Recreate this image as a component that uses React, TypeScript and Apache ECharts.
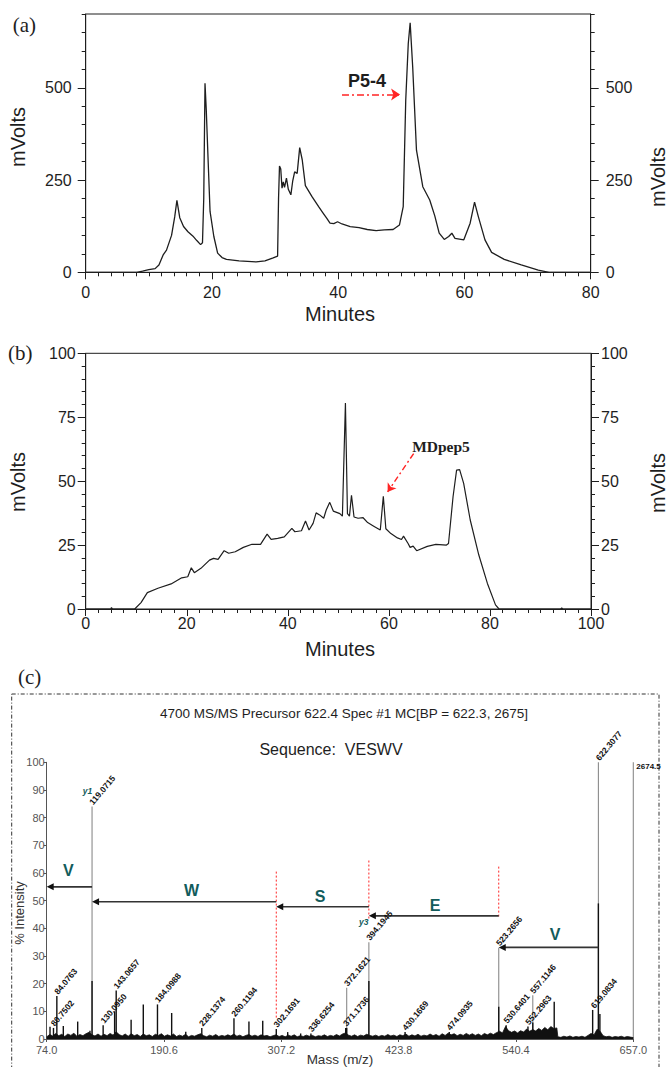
import React, { useEffect, useRef } from "react";
import * as echarts from "echarts";

const SANS = '"Liberation Sans", Arial, Helvetica, sans-serif';
const SERIF = '"Liberation Serif", "Times New Roman", Times, serif';
const NARROW = '"Liberation Sans Narrow", "Liberation Sans", Arial, sans-serif';
const INK = "#1e1e1e";
const TEAL = "#125c5c";
const RED = "#ff2424";

// ---------- Panel (a): chromatogram [minutes, mVolts] ----------
const chromA: [number, number][] = [
  [0, 0], [8.1, 0], [9.0, 3], [10.0, 7], [11.0, 10], [11.6, 20], [12.3, 48], [12.8, 60], [13.6, 100],
  [14.1, 150], [14.45, 195], [14.9, 148], [15.5, 124], [16.2, 110], [17.0, 98], [17.6, 86], [18.2, 75],
  [18.5, 80], [18.7, 200], [18.9, 512], [19.1, 440], [19.4, 300], [19.7, 165], [20.3, 97], [20.9, 52],
  [21.6, 40], [22.3, 35], [24.3, 31], [27.0, 28], [28.4, 31], [29.7, 39], [30.4, 44], [30.55, 200],
  [30.7, 288], [30.9, 280], [31.1, 228], [31.3, 245], [31.5, 230], [31.8, 255], [32.1, 225], [32.5, 210],
  [32.8, 248], [33.1, 272], [33.5, 268], [33.9, 338], [34.3, 305], [34.8, 235], [35.85, 205], [36.9, 178],
  [37.55, 162], [38.2, 146], [38.7, 133], [39.3, 132], [39.9, 137], [40.6, 131], [41.9, 124], [43.3, 121],
  [44.6, 116], [46.0, 113], [47.3, 115], [48.7, 116], [49.7, 128], [50.3, 178], [50.7, 467], [51.1, 620],
  [51.4, 676], [51.8, 557], [52.4, 331], [53.4, 232], [54.5, 196], [55.3, 153], [56.0, 106], [56.8, 89],
  [57.5, 97], [58.0, 106], [58.5, 92], [59.9, 88], [60.9, 133], [61.6, 190], [62.2, 151], [63.25, 88],
  [64.3, 54], [66.3, 35], [69.0, 20], [71.7, 6], [73.4, 0], [80, 0],
];
const arrowA: [number, number][] = [[40.6, 482], [49.8, 482]];

// ---------- Panel (b): chromatogram [minutes, mVolts] ----------
const chromB: [number, number][] = [
  [0, 0], [5, 0], [5.1, 0.6], [5.3, 0], [9.7, 0], [10.95, 2.5], [12.2, 6.4], [14.3, 8.1], [16.9, 9.8],
  [19.0, 12.2], [20.2, 12.6], [20.9, 16.1], [21.5, 14.2], [22.8, 15.9], [24.5, 19.1], [25.3, 19.8],
  [26.2, 19.4], [27.4, 22.8], [28.3, 21.8], [29.6, 22.4], [31.2, 24.1], [32.9, 25.3], [34.6, 25.3],
  [35.9, 29.3], [36.7, 27.2], [38.0, 27.6], [39.3, 28.2], [40.8, 31.5], [41.4, 30.2], [42.7, 30.6],
  [43.5, 34.4], [44.2, 30.9], [45.0, 33.5], [45.6, 37.6], [46.3, 36.8], [47.1, 35.5], [47.6, 38.7],
  [48.3, 41.7], [49.0, 38.3], [50.3, 37.3], [50.8, 36.3], [51.4, 80.6], [51.8, 37.3], [52.2, 36.3],
  [52.6, 44.5], [53.1, 36], [53.9, 35.5], [54.9, 35.7], [55.8, 33.8], [57.0, 32.4], [58.3, 30.9],
  [58.9, 44.1], [59.4, 31.4], [60.4, 29.5], [61.7, 27.8], [62.5, 27.2], [62.9, 28.5], [63.8, 25.6],
  [64.2, 24.1], [64.8, 24.6], [65.5, 22.8], [67.6, 24.5], [69.3, 25.3], [71.4, 25.0], [71.8, 25.6],
  [72.7, 43.9], [73.4, 54.3], [74.0, 54.5], [74.8, 49.1], [76.1, 34.8], [77.8, 21.1], [79.5, 10.0],
  [81.1, 1.6], [81.8, 0], [94, 0], [94.2, 0.4], [94.4, 0], [100, 0],
];
const arrowB: [number, number][] = [[64.9, 60.8], [59.75, 45.8]];

// ---------- Panel (c): MS/MS spectrum ----------
const noise: [number, number][] = [
  [74, 0.8], [77, 1.6], [80, 1.1], [83, 2.0], [86, 1.2], [89, 1.7], [92, 0.9], [95, 1.8], [98, 1.3], [101, 2.1],
  [104, 1.0], [107, 1.6], [110, 1.2], [113, 1.9], [116, 2.4], [119, 1.5], [122, 1.1], [125, 1.8], [128, 1.0],
  [131, 1.7], [134, 1.2], [137, 2.0], [140, 1.4], [143, 2.6], [146, 1.6], [149, 1.1], [152, 1.8], [155, 1.0],
  [158, 1.9], [161, 1.2], [164, 1.6], [167, 0.9], [170, 1.8], [173, 1.2], [176, 1.5], [179, 0.9], [182, 1.7],
  [185, 1.3], [188, 1.9], [191, 1.0], [194, 1.5], [197, 1.1], [200, 1.8], [203, 0.9], [206, 1.4], [209, 1.0],
  [212, 1.7], [215, 0.8], [218, 1.3], [221, 1.0], [224, 1.5], [227, 1.9], [230, 1.2], [233, 0.8], [236, 1.4],
  [239, 1.0], [242, 1.6], [245, 0.9], [248, 1.3], [251, 1.0], [254, 1.5], [257, 1.1], [260, 1.8], [263, 1.0],
  [266, 1.4], [269, 0.8], [272, 1.3], [275, 1.6], [278, 1.0], [281, 1.4], [284, 0.9], [287, 1.5], [290, 1.1],
  [293, 1.3], [296, 0.8], [299, 1.2], [302, 1.5], [305, 0.9], [308, 1.3], [311, 0.8], [314, 1.4], [317, 1.0],
  [320, 1.5], [323, 0.8], [326, 1.2], [329, 0.9], [332, 1.4], [335, 1.0], [338, 1.3], [341, 0.8], [344, 1.2],
  [347, 1.0], [350, 1.5], [353, 0.9], [356, 1.3], [359, 1.0], [362, 1.6], [365, 1.1], [368, 1.8], [371, 2.2],
  [374, 1.4], [377, 1.0], [380, 1.5], [383, 0.9], [386, 1.4], [389, 1.1], [392, 1.7], [395, 1.3], [398, 1.0],
  [401, 1.4], [404, 0.9], [407, 1.3], [410, 1.0], [413, 1.6], [416, 1.1], [419, 1.4], [422, 0.9], [425, 1.5],
  [428, 1.2], [431, 1.8], [434, 1.0], [437, 1.5], [440, 1.1], [443, 1.7], [446, 1.0], [449, 1.4], [452, 1.1],
  [455, 1.8], [458, 1.2], [461, 1.6], [464, 1.0], [467, 1.9], [470, 1.3], [473, 2.1], [476, 1.5], [479, 1.9],
  [482, 1.2], [485, 1.7], [488, 1.3], [491, 2.0], [494, 1.4], [497, 1.9], [500, 1.3], [503, 1.8], [506, 1.2],
  [509, 2.0], [512, 1.5], [515, 2.1], [518, 1.6], [521, 2.3], [524, 2.8], [527, 2.2], [530, 4.5], [533, 3.0],
  [536, 2.4], [539, 2.9], [542, 2.2], [545, 3.0], [548, 2.5], [551, 3.6], [554, 2.8], [557, 3.4], [560, 2.9],
  [563, 3.8], [566, 3.1], [569, 4.2], [572, 3.3], [575, 4.5], [578, 3.8], [581, 4.0], [582, 0.8], [585, 0.6],
  [588, 1.0], [591, 0.7], [594, 1.1], [597, 0.6], [600, 0.9], [603, 0.7], [606, 1.0], [609, 0.6], [612, 1.3],
  [615, 2.0], [618, 1.5], [621, 3.5], [624, 2.8], [627, 1.2], [630, 0.8], [633, 1.0], [636, 0.6], [639, 0.9],
  [642, 0.7], [645, 1.0], [648, 0.6], [651, 0.9], [654, 0.7], [657, 0.5],
];

// black peak sticks [m/z, % intensity]
const blackSticks: [number, number][] = [
  [77.3, 4.4], [80.75, 4], [84.08, 15.5], [90.5, 4.7], [104.8, 6.3], [117, 3], [119.07, 21], [130.1, 5],
  [141.5, 10], [143.07, 17.5], [157.9, 7], [170, 12.5], [184.1, 12.5], [198.2, 9.4], [212.2, 2.6],
  [228.14, 4], [260.12, 7.5], [275, 6.3], [288.7, 6.6], [302.17, 3.6], [313.5, 2.5], [326.4, 2],
  [336.6, 2], [371.17, 4], [372.16, 4], [394.19, 21], [430.17, 2.5], [474.09, 2.5], [523.27, 11.7],
  [530.64, 5], [552.3, 4.5], [557.11, 6], [578.4, 13.5], [616.6, 10.5], [622.3, 49], [623.8, 9],
];
// grey annotated peak lines [m/z, % intensity]
const greyPeaks: [number, number][] = [
  [119.07, 84], [372.16, 18.5], [394.19, 35], [523.27, 33], [557.11, 15.8], [622.31, 100], [657, 100],
];
// peak labels
const peakLabelPos: [number, number][] = [
  [80.75, 4], [84.08, 15.5], [119.07, 84], [130.1, 5], [143.07, 17.5], [184.1, 12.5], [228.14, 4],
  [260.12, 7.5], [302.17, 3.6], [336.63, 2], [371.17, 4], [372.16, 18.5], [394.19, 35], [430.17, 2.5],
  [474.09, 2.5], [523.27, 33], [530.64, 5], [552.3, 4.5], [557.11, 15.8], [617.5, 10.5], [622.31, 100],
];
const peakLabelText: string[] = [
  "80.7502", "84.0763", "119.0715", "130.0950", "143.0657", "184.0988", "228.1374",
  "260.1194", "302.1691", "336.6254", "371.1736", "372.1621", "394.1945", "430.1669",
  "474.0935", "523.2656", "530.6401", "552.2963", "557.1146", "619.0834", "622.3077",
];
const maxMarkerPos: [number, number][] = [[657, 100]];
const maxMarkerText = ["2674.5"];

// red dashed guides [m/z, top %, bottom %]
const redGuides: [number, number, number][] = [
  [302.17, 60.5, 7], [394.19, 64.5, 43], [523.27, 62.3, 44.3],
];
// sequence ladder arrows [from m/z, to m/z, % level]
const ladderArrows: [number, number, number][] = [
  [119.07, 74, 55], [302.17, 119.07, 49.6], [394.19, 302.17, 47.8], [523.27, 394.19, 44.5], [622.31, 523.27, 33.1],
];
const residueLetters = ["V", "W", "S", "E", "V"];
const residuePos: [number, number][] = [[95.4, 61], [218, 53.8], [345.6, 51.4], [460, 48.4], [579.3, 37.6]];
const ionLabels = ["y1", "y3"];
const ionPos: [number, number][] = [[114.6, 89.7], [389.2, 42.4]];

const MZ_MIN = 74.0;
const MZ_MAX = 657.0;
const MZ_STEP = 116.6;

function tickAxis(extra: any) {
  return {
    type: "value",
    splitLine: { show: false },
    minorSplitLine: { show: false },
    axisLine: { show: true, onZero: false, lineStyle: { color: INK, width: 1 } },
    axisTick: { show: true, length: 8, lineStyle: { color: INK, width: 1 } },
    axisLabel: { fontSize: 16, color: INK, fontFamily: SANS },
    ...extra,
  };
}

export default function App() {
  const ref = useRef<HTMLDivElement>(null);
  useEffect(() => {
    const chart = echarts.init(ref.current!, null, { renderer: "svg" });

    const txt = (text: string, x: number, y: number, font: string, extra: any = {}) => ({
      type: "text",
      x,
      y,
      silent: true,
      style: { text, font, fill: INK, align: "center", verticalAlign: "middle", ...(extra.style || {}) },
      ...(extra.rotation !== undefined ? { rotation: extra.rotation } : {}),
    });

    const option: any = {
      animation: false,
      textStyle: { fontFamily: SANS },
      grid: [
        { left: 85.7, top: 14, width: 505, height: 258.3, show: true, borderColor: INK, borderWidth: 1, backgroundColor: "transparent" },
        { left: 85.7, top: 353.3, width: 505.3, height: 255.7, show: true, borderColor: INK, borderWidth: 1, backgroundColor: "transparent" },
        { left: 46.7, top: 762.3, width: 586.6, height: 276.7, show: false },
      ],
      xAxis: [
        tickAxis({
          gridIndex: 0, min: 0, max: 80, interval: 20, position: "bottom",
          axisTick: { show: true, length: 7, lineStyle: { color: INK } },
          minorTick: { show: true, splitNumber: 10, length: 4, lineStyle: { color: INK } },
          axisLabel: { fontSize: 16, color: INK, margin: 12, fontFamily: SANS },
        }),
        tickAxis({
          gridIndex: 1, min: 0, max: 100, interval: 20, position: "bottom",
          axisTick: { show: true, length: 7, lineStyle: { color: INK } },
          minorTick: { show: true, splitNumber: 8, length: 4, lineStyle: { color: INK } },
          axisLabel: { fontSize: 16, color: INK, margin: 6, fontFamily: SANS },
        }),
        {
          type: "value", gridIndex: 2, min: MZ_MIN, max: MZ_MAX, position: "bottom",
          axisLine: { show: true, onZero: false, lineStyle: { color: "#555", width: 1 } },
          axisTick: { show: false }, axisLabel: { show: false }, splitLine: { show: false },
        },
        {
          type: "value", gridIndex: 2, min: 0, max: MZ_MAX - MZ_MIN, interval: MZ_STEP, position: "bottom",
          axisLine: { show: false, onZero: false },
          axisTick: { show: true, length: 3, lineStyle: { color: "#555" } },
          splitLine: { show: false },
          axisLabel: {
            fontSize: 11, color: "#555", margin: 5, fontFamily: SANS, showMinLabel: true, showMaxLabel: true,
            formatter: (v: number) => (v + MZ_MIN).toFixed(1),
          },
        },
      ],
      yAxis: [
        tickAxis({ gridIndex: 0, min: 0, max: 700, interval: 50, position: "left", axisTick: { length: 4, lineStyle: { color: INK } }, axisLabel: { show: false } }),
        tickAxis({
          gridIndex: 0, min: 0, max: 700, interval: 250, position: "left", axisLine: { show: false, onZero: false },
          axisLabel: { fontSize: 16, color: INK, margin: 14, fontFamily: SANS, showMaxLabel: false, formatter: (v: number) => (v % 250 === 0 ? String(v) : "") },
        }),
        tickAxis({ gridIndex: 0, min: 0, max: 700, interval: 50, position: "right", axisTick: { length: 4, lineStyle: { color: INK } }, axisLabel: { show: false } }),
        tickAxis({
          gridIndex: 0, min: 0, max: 700, interval: 250, position: "right", axisLine: { show: false, onZero: false },
          axisLabel: { fontSize: 16, color: INK, margin: 15, fontFamily: SANS, showMaxLabel: false, formatter: (v: number) => (v % 250 === 0 ? String(v) : "") },
        }),
        tickAxis({
          gridIndex: 1, min: 0, max: 100, interval: 25, position: "left",
          minorTick: { show: true, splitNumber: 5, length: 4, lineStyle: { color: INK } },
          axisLabel: { fontSize: 16, color: INK, margin: 10, fontFamily: SANS },
        }),
        tickAxis({
          gridIndex: 1, min: 0, max: 100, interval: 25, position: "right",
          minorTick: { show: true, splitNumber: 5, length: 4, lineStyle: { color: INK } },
          axisLabel: { fontSize: 16, color: INK, margin: 10, fontFamily: SANS },
        }),
        {
          type: "value", gridIndex: 2, min: 0, max: 100, interval: 10, position: "left",
          axisLine: { show: true, onZero: false, lineStyle: { color: "#555", width: 1 } },
          axisTick: { show: true, length: 3, lineStyle: { color: "#555" } },
          splitLine: { show: false },
          axisLabel: { fontSize: 11, color: "#555", margin: 2, fontFamily: SANS },
        },
      ],
      series: [
        {
          type: "line", xAxisIndex: 0, yAxisIndex: 0, data: chromA, symbol: "none", silent: true,
          lineStyle: { color: INK, width: 1.3 },
          markLine: {
            silent: true, symbol: ["none", "arrow"], symbolSize: 9, label: { show: false },
            lineStyle: { color: RED, width: 1.6, type: [7, 3, 2, 3] },
            data: [[{ coord: arrowA[0] }, { coord: arrowA[1] }]],
          },
        },
        {
          type: "line", xAxisIndex: 1, yAxisIndex: 4, data: chromB, symbol: "none", silent: true,
          lineStyle: { color: INK, width: 1.2 },
          markLine: {
            silent: true, symbol: ["none", "arrow"], symbolSize: 8, label: { show: false },
            lineStyle: { color: RED, width: 1.4, type: [6, 3, 2, 3] },
            data: [[{ coord: arrowB[0] }, { coord: arrowB[1] }]],
          },
        },
        {
          type: "line", xAxisIndex: 2, yAxisIndex: 6, data: noise, symbol: "none", silent: true,
          lineStyle: { color: "#111", width: 0.8 }, areaStyle: { color: "#111", opacity: 1 },
        },
        {
          type: "custom", xAxisIndex: 2, yAxisIndex: 6, data: greyPeaks, silent: true,
          renderItem: (_p: any, api: any) => {
            const a = api.coord([api.value(0), 0]);
            const b = api.coord([api.value(0), api.value(1)]);
            return { type: "line", shape: { x1: a[0], y1: a[1], x2: b[0], y2: b[1] }, style: { stroke: "#8a8a8a", lineWidth: 1.1 } };
          },
        },
        {
          type: "custom", xAxisIndex: 2, yAxisIndex: 6, data: blackSticks, silent: true,
          renderItem: (_p: any, api: any) => {
            const a = api.coord([api.value(0), 0]);
            const b = api.coord([api.value(0), api.value(1)]);
            return { type: "line", shape: { x1: a[0], y1: a[1], x2: b[0], y2: b[1] }, style: { stroke: "#111", lineWidth: 1.4 } };
          },
        },
        {
          type: "custom", xAxisIndex: 2, yAxisIndex: 6, data: redGuides, silent: true, encode: { x: 0, y: [1, 2] },
          renderItem: (_p: any, api: any) => {
            const a = api.coord([api.value(0), api.value(1)]);
            const b = api.coord([api.value(0), api.value(2)]);
            return { type: "line", shape: { x1: a[0], y1: a[1], x2: b[0], y2: b[1] }, style: { stroke: RED, lineWidth: 1, lineDash: [2, 2] } };
          },
        },
        {
          type: "custom", xAxisIndex: 2, yAxisIndex: 6, data: ladderArrows, silent: true, encode: { x: [0, 1], y: 2 },
          renderItem: (_p: any, api: any) => {
            const a = api.coord([api.value(0), api.value(2)]);
            const b = api.coord([api.value(1), api.value(2)]);
            return {
              type: "group",
              children: [
                { type: "line", shape: { x1: a[0], y1: a[1], x2: b[0] + 5, y2: b[1] }, style: { stroke: "#333", lineWidth: 1.7 } },
                { type: "polygon", shape: { points: [[b[0], b[1]], [b[0] + 7, b[1] - 3.5], [b[0] + 7, b[1] + 3.5]] }, style: { fill: "#111" } },
              ],
            };
          },
        },
        {
          type: "custom", xAxisIndex: 2, yAxisIndex: 6, data: residuePos, silent: true,
          renderItem: (p: any, api: any) => {
            const c = api.coord([api.value(0), api.value(1)]);
            return {
              type: "text", x: c[0], y: c[1],
              style: { text: residueLetters[p.dataIndex], font: `bold 16px ${SANS}`, fill: TEAL, align: "center", verticalAlign: "middle" },
            };
          },
        },
        {
          type: "custom", xAxisIndex: 2, yAxisIndex: 6, data: ionPos, silent: true,
          renderItem: (p: any, api: any) => {
            const c = api.coord([api.value(0), api.value(1)]);
            return {
              type: "text", x: c[0], y: c[1],
              style: { text: ionLabels[p.dataIndex], font: `italic bold 8.5px ${SANS}`, fill: TEAL, align: "center", verticalAlign: "middle" },
            };
          },
        },
        {
          type: "custom", xAxisIndex: 2, yAxisIndex: 6, data: peakLabelPos, silent: true,
          renderItem: (p: any, api: any) => {
            const c = api.coord([api.value(0), api.value(1)]);
            return {
              type: "text", x: c[0] - 1, y: c[1] - 3, rotation: (50 * Math.PI) / 180,
              style: { text: peakLabelText[p.dataIndex], font: `bold 8.5px ${NARROW}`, fill: "#111", align: "left", verticalAlign: "middle" },
            };
          },
        },
        {
          type: "custom", xAxisIndex: 2, yAxisIndex: 6, data: maxMarkerPos, silent: true,
          renderItem: (p: any, api: any) => {
            const c = api.coord([api.value(0), api.value(1)]);
            return {
              type: "text", x: c[0] + 3, y: c[1] + 4,
              style: { text: maxMarkerText[p.dataIndex], font: `bold 8px ${NARROW}`, fill: "#111", align: "left", verticalAlign: "middle" },
            };
          },
        },
      ],
      graphic: [
        txt("(a)", 24.3, 25, `21px ${SERIF}`),
        txt("(b)", 20.3, 353, `21px ${SERIF}`),
        txt("(c)", 29.7, 677, `21px ${SERIF}`),
        txt("mVolts", 18, 137, `20px ${SANS}`, { rotation: Math.PI / 2 }),
        txt("mVolts", 658, 177, `20px ${SANS}`, { rotation: Math.PI / 2 }),
        txt("Minutes", 340, 314, `20px ${SANS}`),
        txt("P5-4", 367, 81, `bold 18px ${SANS}`),
        txt("mVolts", 18, 482, `20px ${SANS}`, { rotation: Math.PI / 2 }),
        txt("mVolts", 658, 483, `20px ${SANS}`, { rotation: Math.PI / 2 }),
        txt("Minutes", 340, 649, `20px ${SANS}`),
        txt("MDpep5", 441, 446, `bold 15.5px ${SERIF}`),
        {
          type: "rect", silent: true,
          shape: { x: 11.7, y: 694, width: 647.3, height: 400 },
          style: { fill: "none", stroke: "#333", lineWidth: 1, lineDash: [4, 2, 1, 2] },
        },
        txt("4700 MS/MS Precursor 622.4 Spec #1 MC[BP = 622.3, 2675]", 344, 713, `13.5px ${SANS}`),
        txt("Sequence:  VESWV", 331, 749, `16px ${SANS}`),
        txt("% Intensity", 19, 913, `13px ${SANS}`, { rotation: Math.PI / 2, style: { fill: "#333" } }),
        txt("Mass (m/z)", 340, 1059.5, `13.5px ${SANS}`, { style: { fill: "#333" } }),
      ],
    };

    chart.setOption(option);
    return () => chart.dispose();
  }, []);

  return (
    <div
      ref={ref}
      style={{ position: "absolute", left: 0, top: 0, width: 670, height: 1067, background: "#fff" }}
    />
  );
}
